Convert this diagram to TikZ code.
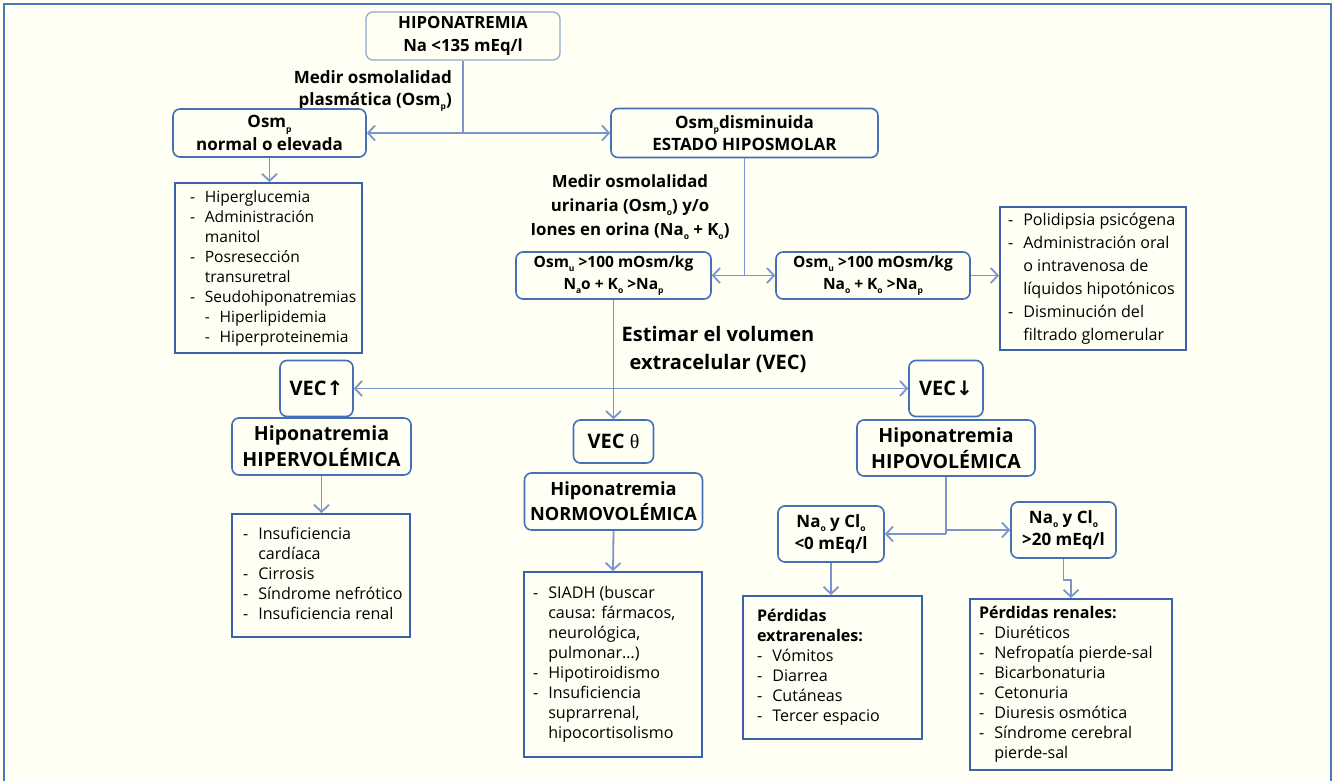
\documentclass[tikz,border=0pt]{standalone}
\usepackage{fontspec}
\setmainfont{Open Sans}
\newfontfamily\dejavu{DejaVu Sans}
\newfontfamily\lserif{Liberation Serif}
\usetikzlibrary{arrows.meta}
\definecolor{bg}{HTML}{FFFFF4}
\definecolor{framec}{HTML}{4A78C0}
\definecolor{rbox}{HTML}{4470B8}
\definecolor{lbox}{HTML}{3A62AB}
\definecolor{arr}{HTML}{7B95CC}
\definecolor{topb}{HTML}{8FA6CF}
\newcommand\lo[1]{\raisebox{-0.45ex}{\fontsize{8.5}{8.5}\selectfont #1}}
\newcommand\dl{\makebox[0.95em][l]{-}}
\newcommand\cl{\hspace*{0.95em}}
\newcommand\lst[2]{\makebox[#1][l]{\begin{tabular}{@{}l@{}}#2\end{tabular}}}
\tikzset{
  rb/.style={draw=rbox, line width=1.6pt, rounded corners=7pt, fill=bg, align=center, inner sep=0pt,
    font=\bfseries\fontsize{17}{22.5}\selectfont},
  rsm/.style={rb, font=\bfseries\fontsize{15.5}{22.5}\selectfont},
  rbig/.style={rb, font=\bfseries\fontsize{19.5}{26}\selectfont},
  rvec/.style={rb, font=\bfseries\fontsize{20}{26}\selectfont},
  lb/.style={draw=lbox, line width=2pt, fill=bg, inner sep=0pt, font=\fontsize{16.1}{20}\selectfont},
  lbl/.style={inner sep=0pt, font=\bfseries\fontsize{17}{22}\selectfont},
  con/.style={draw=arr, line width=1.8pt},
  ar/.style={con, -{Straight Barb[length=7pt,width=15pt]}},
  arr2/.style={con, {Straight Barb[length=7pt,width=15pt]}-{Straight Barb[length=7pt,width=15pt]}}
}
\begin{document}
\begin{tikzpicture}[x=1pt,y=-1pt]
\useasboundingbox (0,0) rectangle (1334,780);
\fill[bg] (0,0) rectangle (1334,780);
\draw[framec, line width=1.6pt] (4,782) -- (4,4) -- (1331,4) -- (1331,782);

% top level
\node[rb, draw=topb, line width=1.2pt, minimum width=194pt, minimum height=48pt,
  font=\bfseries\fontsize{16.8}{23}\selectfont] (top) at (463,36)
  {HIPONATREMIA\\Na <135 mEq/l};
\node[lbl, align=right, anchor=east] (lbl1) at (452,91) {Medir osmolalidad\\plasmática (Osm\lo{p})};
\node[rb, minimum width=193pt, minimum height=48pt] (osmn) at (269.5,133) {Osm\lo{p}\\normal o elevada};
\node[rb, minimum width=267pt, minimum height=49pt] (osmd) at (744.5,133) {Osm\lo{p}disminuida\\ESTADO HIPOSMOLAR};

\node[lb, minimum width=187pt, minimum height=170pt, font=\fontsize{15.6}{20}\selectfont] (list1) at (268.5,268) {\lst{157pt}{%
\dl Hiperglucemia\\
\dl Administración\\
\cl manitol\\
\dl Posresección\\
\cl transuretral\\
\dl Seudohiponatremias\\
\cl\dl Hiperlipidemia\\
\cl\dl Hiperproteinemia}};

\node[lbl, align=center, font=\bfseries\fontsize{16.8}{24}\selectfont] (lbl2) at (630,207)
  {Medir osmolalidad\\urinaria (Osm\lo{o}) y/o\\Iones en orina (Na\lo{o} + K\lo{o})};

\node[rsm, minimum width=195pt, minimum height=47pt] (osmuL) at (613.5,275.5)
  {Osm\lo{u} >100 mOsm/kg\\N\lo{a}o + K\lo{o} >Na\lo{p}};
\node[rsm, minimum width=194pt, minimum height=47pt] (osmuR) at (873,275.5)
  {Osm\lo{u} >100 mOsm/kg\\Na\lo{o} + K\lo{o} >Na\lo{p}};

\node[lb, minimum width=186pt, minimum height=143pt, font=\fontsize{16.1}{23}\selectfont] (listR) at (1093,278.5) {\lst{170pt}{%
\dl Polidipsia psicógena\\
\dl Administración oral\\
\cl o intravenosa de\\
\cl líquidos hipotónicos\\
\dl Disminución del\\
\cl filtrado glomerular}};

\node[lbl, align=center, font=\bfseries\fontsize{20}{28}\selectfont] (lbl3) at (718,349)
  {Estimar el volumen\\extracelular (VEC)};

% VEC level
\node[rvec, minimum width=73pt, minimum height=56pt] (vecUp) at (316.5,388.5) {VEC{\dejavu\bfseries ↑}};
\node[rvec, minimum width=74pt, minimum height=56pt] (vecDn) at (946,388.5) {VEC{\dejavu\bfseries ↓}};
\node[rvec, minimum width=80pt, minimum height=43pt] (vecN) at (613.5,441.5) {VEC {\lserif\mdseries θ}};

\node[rbig, minimum width=179pt, minimum height=57pt] (hiper) at (321.5,446.5) {Hiponatremia\\HIPERVOLÉMICA};
\node[rbig, minimum width=178pt, minimum height=57pt, font=\bfseries\fontsize{18.2}{25}\selectfont] (normo) at (613.5,501.5) {Hiponatremia\\NORMOVOLÉMICA};
\node[rbig, minimum width=178pt, minimum height=56pt] (hipo) at (946,448) {Hiponatremia\\HIPOVOLÉMICA};

\node[lb, minimum width=178pt, minimum height=123pt] (listHiper) at (321,575.5) {\lst{156pt}{%
\dl Insuficiencia\\
\cl cardíaca\\
\dl Cirrosis\\
\dl Síndrome nefrótico\\
\dl Insuficiencia renal}};

\node[lb, minimum width=178pt, minimum height=185pt] (listNormo) at (613,664.5) {\lst{160pt}{%
\dl SIADH (buscar\\
\cl causa: fármacos,\\
\cl neurológica,\\
\cl pulmonar…)\\
\dl Hipotiroidismo\\
\dl Insuficiencia\\
\cl suprarrenal,\\
\cl hipocortisolismo}};

\node[rb, minimum width=106pt, minimum height=56pt] (naL) at (831,534)
  {Na\lo{o} y Cl\lo{o}\\<0 mEq/l};
\node[rb, minimum width=105pt, minimum height=56pt] (naR) at (1063.5,530)
  {Na\lo{o} y Cl\lo{o}\\>20 mEq/l};

\node[lb, minimum width=179pt, minimum height=143pt] (extra) at (832.5,667.5) {\lst{151pt}{%
\textbf{Pérdidas}\\
\textbf{extrarenales:}\\
\dl Vómitos\\
\dl Diarrea\\
\dl Cutáneas\\
\dl Tercer espacio}};

\node[lb, minimum width=202pt, minimum height=171pt] (renal) at (1071,684.5) {\lst{184pt}{%
\textbf{Pérdidas renales:}\\
\dl Diuréticos\\
\dl Nefropatía pierde-sal\\
\dl Bicarbonaturia\\
\dl Cetonuria\\
\dl Diuresis osmótica\\
\dl Síndrome cerebral\\
\cl pierde-sal}};

% connectors
\coordinate (j1) at (463,133);
\draw[con] (top.south) -- (j1);
\draw[ar] (j1) -- (osmn.east);
\draw[ar] (j1) -- (osmd.west);
\draw[ar] (osmn.south) -- (osmn.south |- list1.north);

\coordinate (j2) at (744.5,275.5);
\draw[con] (osmd.south) -- (j2);
\draw[ar] (j2) -- (osmuL.east);
\draw[ar] (j2) -- (osmuR.west);
\draw[ar] (osmuR.east) -- (osmuR.east -| listR.west);

\draw[ar] (osmuL.south) -- (vecN.north);
\draw[arr2] (vecUp.east) -- (vecDn.west);

\draw[ar] (hiper.south) -- (hiper.south |- listHiper.north);
\draw[ar] (normo.south) -- (listNormo.north);

\coordinate (j4) at (946,534);
\coordinate (j5) at (946,530);
\draw[con] (hipo.south) -- (j4);
\draw[ar] (j4) -- (naL.east);
\draw[ar] (j5) -- (naR.west);
\draw[ar] (naL.south) -- (naL.south |- extra.north);
\draw[ar] (naR.south) -- ++(0,21) -| (renal.north);
\end{tikzpicture}
\end{document}
